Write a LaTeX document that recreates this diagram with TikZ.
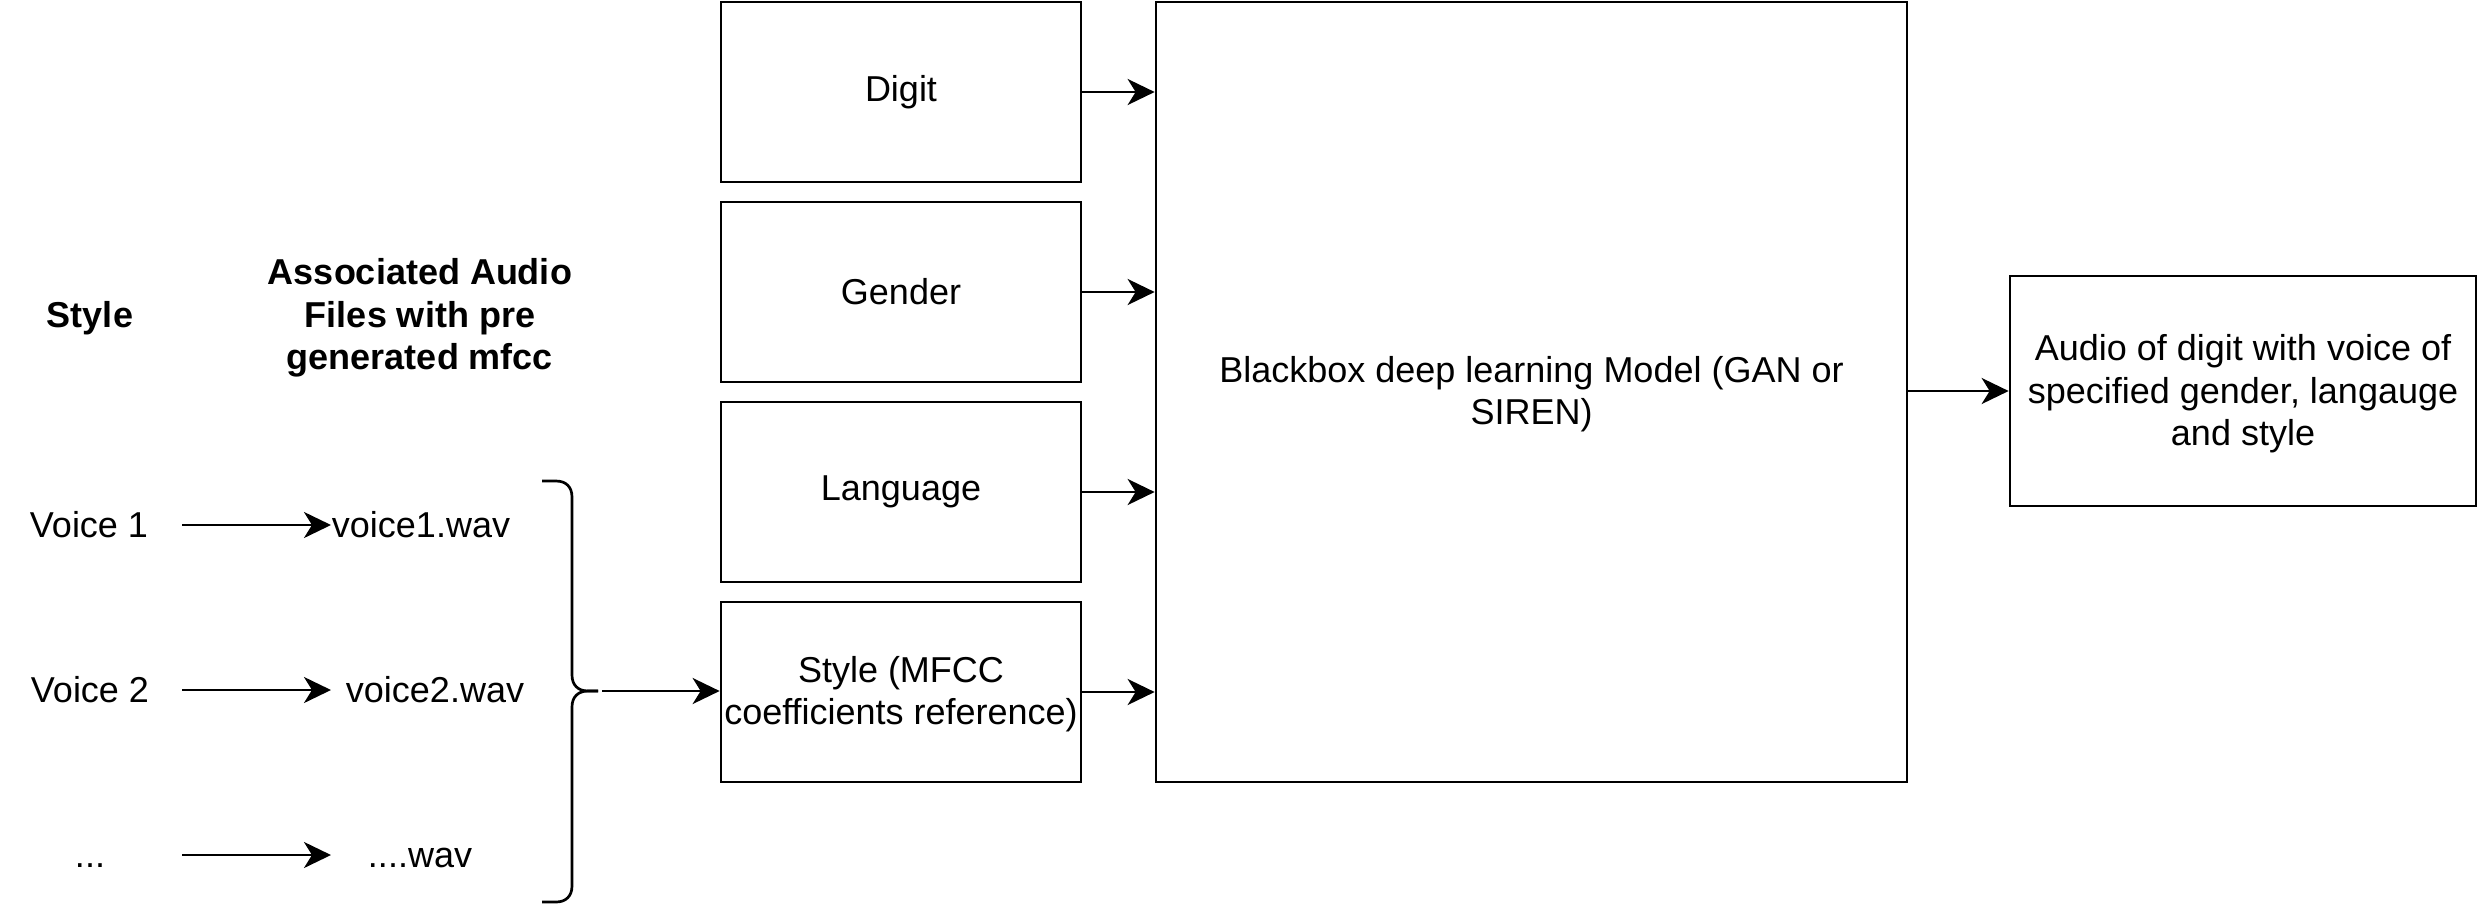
\documentclass[tikz,border=0pt]{standalone}
\usepackage{fontspec}
\setmainfont{Liberation Sans}
\usetikzlibrary{arrows.meta}
\newcommand\dfs{\fontsize{36}{42.5}\selectfont}
\newcommand\firststrut[1]{\rule{0pt}{#1}}
\begin{document}
\begin{tikzpicture}[x=1pt,y=-1pt,
  lw/.style={line width=2.7pt},
  box/.style={draw, lw, inner sep=0pt, align=center, font=\dfs},
  inbox/.style={box, minimum width=360pt, minimum height=180pt},
  txt/.style={inner sep=0pt, align=center, font=\dfs},
  one/.style={text height=25.5pt, text depth=0pt},
  arr/.style={lw, -{Stealth[length=27pt,width=26pt,inset=8pt]}},
  brace/.style={lw, line join=round, line cap=butt}]
\useasboundingbox (0,0) rectangle (2478,906);

% input boxes
\node[inbox] (digit) at (901,92) {Digit};
\node[inbox] (gender) at (901,292) {Gender};
\node[inbox] (lang) at (901,492) {Language};
\node[inbox] (style) at (901,692) {\firststrut{30pt}Style (MFCC\\coefficients reference)};

% model and output
\node[box, minimum width=751pt, minimum height=780pt] (model) at (1531.5,392)
  {\firststrut{30pt}Blackbox deep learning Model (GAN or\\SIREN)};
\node[box, minimum width=466pt, minimum height=230pt] (out) at (2243,391)
  {\firststrut{32pt}Audio of digit with voice of\\specified gender, langauge\\and style};

% headings
\node[txt, one, font=\dfs\bfseries] (hstyle) at (90,315) {Style};
\node[txt, font=\dfs\bfseries] (hassoc) at (420,318) {Associated Audio\\Files with pre\\generated mfcc};

% voices
\node[txt, one] (v1) at (89,525) {Voice 1};
\node[txt, one] (v2) at (90,690) {Voice 2};
\node[txt, one] (v3) at (90,855) {...};
\node[txt, one] (w1) at (421,525) {voice1.wav};
\node[txt, one] (w2) at (435,690) {voice2.wav};
\node[txt, one] (w3) at (420,855) {....wav};

\coordinate (s1) at (182,525); \coordinate (e1) at (331,525);
\coordinate (s2) at (182,690); \coordinate (e2) at (331,690);
\coordinate (s3) at (182,855); \coordinate (e3) at (331,855);
\draw[arr] (s1) -- (e1);
\draw[arr] (s2) -- (e2);
\draw[arr] (s3) -- (e3);

% brace
\coordinate (btop) at (542,481);
\coordinate (bbot) at (542,902);
\coordinate (btip) at (598,691);
\coordinate (bstart) at (602,691);
\draw[brace] (btop) -- (556,481) .. controls (566,481) and (572,487) .. (572,497)
  -- (572,675) .. controls (572,685) and (578,691) .. (588,691) -- (btip);
\draw[brace] (btip) -- (588,691) .. controls (578,691) and (572,697) .. (572,707)
  -- (572,886) .. controls (572,896) and (566,902) .. (556,902) -- (bbot);
\draw[arr] (bstart) -- (bstart -| style.west);

% connectors into model
\draw[arr] (digit.east) -- (digit.east -| model.west);
\draw[arr] (gender.east) -- (gender.east -| model.west);
\draw[arr] (lang.east) -- (lang.east -| model.west);
\draw[arr] (style.east) -- (style.east -| model.west);
\draw[arr] (model.east |- out.west) -- (out.west);
\end{tikzpicture}
\end{document}
